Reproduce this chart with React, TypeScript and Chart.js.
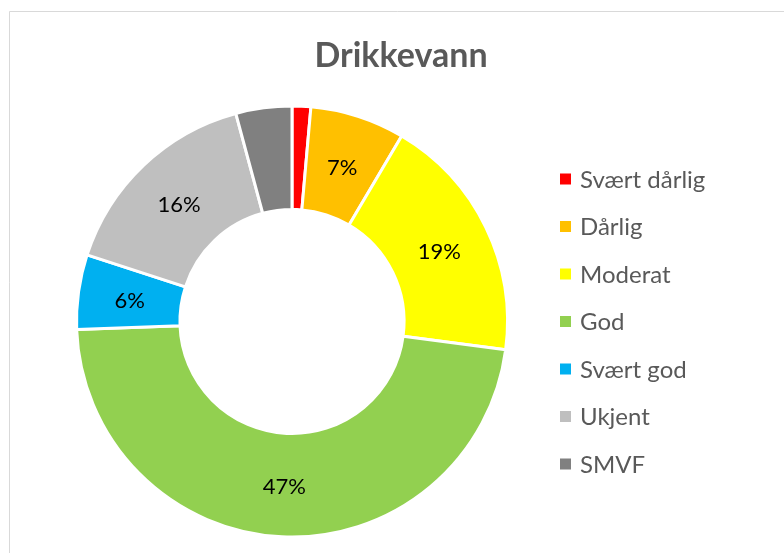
import React, { useEffect, useRef } from "react";
import { Chart, registerables } from "chart.js";

Chart.register(...registerables);

const title = "Drikkevann";
const categories = ["Svært dårlig", "Dårlig", "Moderat", "God", "Svært god", "Ukjent", "SMVF"];
const values = [1.4, 7.1, 18.6, 47.3, 5.6, 15.8, 4.2];
const colors = ["#FF0000", "#FFC000", "#FFFF00", "#92D050", "#00B0F0", "#BFBFBF", "#808080"];
const labelThreshold = 5;

const FONT = "Lato, 'Open Sans', sans-serif";

const decorPlugin = {
  id: "decor",
  beforeDraw(chart: any) {
    const ctx = chart.ctx;
    ctx.save();
    ctx.fillStyle = "#ffffff";
    ctx.fillRect(0, 0, chart.width, chart.height);
    ctx.strokeStyle = "#D9D9D9";
    ctx.lineWidth = 1;
    ctx.beginPath();
    ctx.moveTo(9.5, chart.height + 5);
    ctx.lineTo(9.5, 11.5);
    ctx.lineTo(chart.width + 5, 11.5);
    ctx.stroke();
    ctx.restore();
  },
  afterDraw(chart: any) {
    const ctx = chart.ctx;
    ctx.save();
    // title
    ctx.fillStyle = "#595959";
    ctx.font = `bold 34px ${FONT}`;
    ctx.textAlign = "center";
    ctx.textBaseline = "alphabetic";
    ctx.fillText(title, 401, 67);

    // data labels
    const meta = chart.getDatasetMeta(0);
    const data = chart.data.datasets[0].data as number[];
    ctx.fillStyle = "#000000";
    ctx.font = `22px ${FONT}`;
    ctx.textAlign = "center";
    ctx.textBaseline = "middle";
    meta.data.forEach((arc: any, i: number) => {
      const v = data[i];
      if (v < labelThreshold) return;
      const p = arc.getCenterPoint();
      ctx.fillText(Math.round(v) + "%", p.x, p.y + 2);
    });

    // legend
    const labels = chart.data.labels as string[];
    const bg = chart.data.datasets[0].backgroundColor as string[];
    ctx.font = `24px ${FONT}`;
    ctx.textAlign = "left";
    ctx.textBaseline = "middle";
    labels.forEach((lab, i) => {
      const cy = 179 + i * 47.5;
      ctx.fillStyle = bg[i];
      ctx.fillRect(560, cy - 5.5, 11, 11);
      ctx.fillStyle = "#595959";
      ctx.fillText(lab, 580, cy + 1);
    });
    ctx.restore();
  },
};

export default function App() {
  const ref = useRef<HTMLCanvasElement | null>(null);
  useEffect(() => {
    if (!ref.current) return;
    const chart = new Chart(ref.current, {
      type: "doughnut",
      data: {
        labels: categories,
        datasets: [
          {
            data: values,
            backgroundColor: colors,
            borderColor: "#ffffff",
            borderWidth: 3,
          },
        ],
      },
      options: {
        responsive: false,
        animation: false,
        cutout: "52%",
        rotation: 0,
        layout: { padding: { left: 75, right: 275, top: 104.5, bottom: 14.5 } },
        plugins: {
          legend: { display: false },
          title: { display: false },
          tooltip: { enabled: false },
        },
      },
      plugins: [decorPlugin],
    });
    return () => chart.destroy();
  }, []);
  return (
    <div style={{ position: "fixed", left: 0, top: 0, width: 784, height: 553, background: "#fff" }}>
      <canvas ref={ref} width={784} height={553} style={{ display: "block" }} />
    </div>
  );
}
